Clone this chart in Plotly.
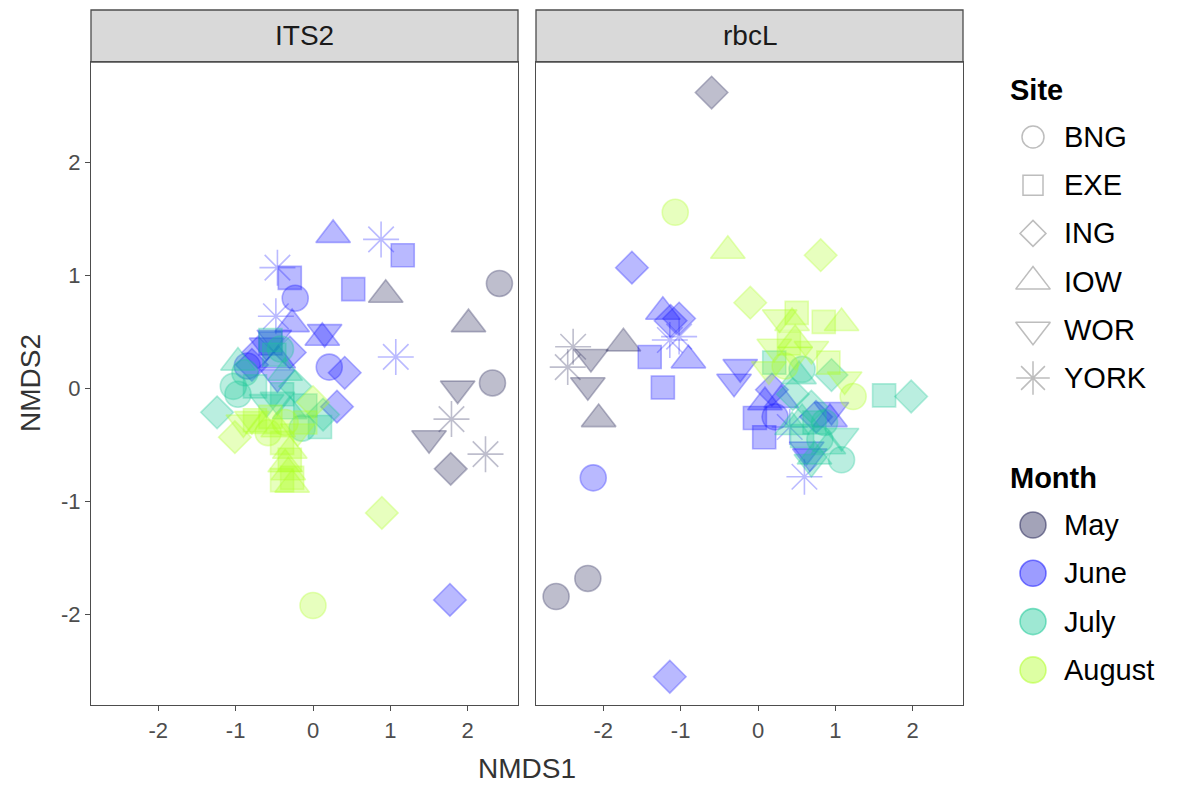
import plotly.graph_objects as go

# ---------------- data ----------------
months = ["May", "June", "July", "August"]
sites = ["BNG", "EXE", "ING", "IOW", "WOR", "YORK"]
month_rgb = {"May": (35, 35, 85), "June": (20, 20, 255), "July": (25, 200, 150), "August": (175, 255, 35)}

its2_x = [2.41, 2.32, 0.94, 2.01, 1.87, 1.50, 1.79, 2.23, 1.78,
          0.88, 1.16, 0.52, 0.26, 1.07, 1.77, -0.46, -0.30, -0.23, -0.48, -0.27, 0.15, 0.12, 0.21, 0.41, 0.31,
          -0.85, -0.50, -0.71, -0.46, -0.30, -0.55, -0.79, -0.45, -0.60,
          -1.03, -0.97, -1.24, -0.88, -0.46, -0.23, -0.36, -0.75, -0.55, -0.97, -0.14, 0.09, 0.13, -0.50, -0.40,
          -0.60, -0.30, -0.10, -0.42,
          0.00, 0.89, -1.01, -0.79, -0.75, -0.45, -0.58, -0.36, 0.00, -0.30, -0.36, -0.27, -0.27, -0.40, -0.32,
          -0.55, -0.90, -0.20, -0.40, -0.30, -0.10, -0.65]
its2_y = [0.93, 0.05, 0.83, 0.57, 0.00, -0.44, -0.27, -0.58, -0.71,
          1.32, 1.18, 0.88, 1.36, 0.28, -1.87, 1.07, 0.98, 0.80, 0.64, 0.57, 0.50, 0.45, 0.19, 0.14, -0.16,
          0.20, 0.45, 0.32, 0.10, 0.32, 0.40, 0.21, 0.25, 0.38,
          0.02, -0.05, -0.21, 0.14, -0.10, 0.02, 0.14, 0.02, 0.43, 0.23, -0.35, -0.34, -0.23, 0.30, -0.05,
          -0.12, -0.20, -0.15, 0.35,
          -1.92, -1.10, -0.43, -0.27, -0.28, -0.36, -0.39, -0.30, -0.12, -0.63, -0.67, -0.79, -0.85, -0.81, -0.74,
          -0.25, -0.30, -0.38, -0.48, -0.55, -0.30, -0.33]
its2_month = (["May"] * 9 + ["June"] * 25 + ["July"] * 19 + ["August"] * 22)
its2_site = ["BNG", "BNG", "IOW", "IOW", "WOR", "WOR", "YORK", "YORK", "ING",
             "YORK", "EXE", "EXE", "IOW", "YORK", "ING", "YORK", "EXE", "BNG", "YORK", "IOW", "WOR", "IOW", "BNG", "ING", "ING",
             "BNG", "WOR", "ING", "WOR", "ING", "EXE", "ING", "IOW", "WOR",
             "BNG", "BNG", "ING", "BNG", "WOR", "ING", "IOW", "EXE", "EXE", "IOW", "BNG", "EXE", "ING", "EXE", "EXE",
             "WOR", "IOW", "EXE", "BNG",
             "BNG", "ING", "ING", "WOR", "EXE", "IOW", "BNG", "BNG", "ING", "EXE", "IOW", "EXE", "IOW", "EXE", "IOW",
             "EXE", "WOR", "WOR", "EXE", "IOW", "EXE", "IOW"]

rbcl_x = [-0.60, -2.61, -2.20, -2.39, -2.46, -2.16, -2.20, -2.06, -1.74,
          -1.63, -2.13, -1.14, -1.23, -1.02, -1.13, -1.14, -1.02, -1.40, -0.90, -1.23, -0.23, -0.31, -0.04, 0.08,
          0.22, 0.09, 0.18, 0.41, 0.60, 0.67, 0.63, 0.95, 0.93, 0.75, 0.30,
          1.63, 1.98, 1.08, 0.21, 0.57, 0.53, 0.95, 1.08, 0.91, 0.86, 0.57, 0.69, 0.73, 0.73, 0.69, 0.57, 0.44,
          0.45, 0.80,
          -1.07, -0.39, 0.81, -0.10, 0.28, 0.50, 0.44, 0.85, 1.08, 0.48, 0.21, 0.69, 0.48, 0.91, 1.12, 1.23,
          0.14, 0.40, 0.35]
rbcl_y = [2.62, -1.84, -1.68, 0.37, 0.19, 0.28, 0.03, -0.27, 0.40,
          1.07, -0.79, -2.55, 0.68, 0.62, 0.60, 0.43, 0.46, 0.28, 0.25, 0.01, 0.19, 0.06, -0.26, -0.43,
          -0.25, -0.12, -0.01, -0.34, -0.78, -0.60, -0.54, -0.19, -0.27, -0.25, -0.10,
          -0.06, -0.07, -0.63, 0.23, 0.17, 0.11, 0.12, -0.42, -0.51, -0.30, -0.27, -0.16, -0.30, -0.60, -0.65, -0.42, -0.34,
          -0.05, -0.45,
          1.56, 1.22, 1.18, 0.76, 0.63, 0.67, 0.58, 0.59, 0.58, 0.43, 0.37, 0.35, 0.30, 0.23, 0.08, -0.07,
          0.17, 0.40, 0.20]
rbcl_month = (["May"] * 9 + ["June"] * 26 + ["July"] * 19 + ["August"] * 19)
rbcl_site = ["ING", "BNG", "BNG", "YORK", "YORK", "WOR", "WOR", "IOW", "IOW",
             "ING", "BNG", "ING", "IOW", "ING", "ING", "YORK", "YORK", "EXE", "IOW", "EXE", "WOR", "WOR", "EXE", "EXE",
             "BNG", "IOW", "ING", "YORK", "YORK", "WOR", "WOR", "WOR", "IOW", "ING", "IOW",
             "EXE", "ING", "BNG", "EXE", "BNG", "IOW", "ING", "WOR", "IOW", "BNG", "IOW", "ING", "EXE", "IOW", "WOR", "EXE", "IOW",
             "ING", "BNG",
             "BNG", "IOW", "ING", "ING", "WOR", "EXE", "IOW", "EXE", "IOW", "IOW", "WOR", "WOR", "WOR", "EXE", "WOR", "BNG",
             "WOR", "EXE", "BNG"]

panel_names = ["ITS2", "rbcL"]

# ---------------- styling ----------------
W, H = 1178, 787
site_symbol = {"BNG": "circle", "EXE": "square", "ING": "diamond", "IOW": "triangle-up",
               "WOR": "triangle-down", "YORK": "asterisk-open"}
site_size = {"BNG": 26, "EXE": 23, "ING": 25, "IOW": 30, "WOR": 30, "YORK": 30}
ALPHA = 0.42
FONT = "Liberation Sans, Arial, sans-serif"

def rgba(rgb, a):
    return "rgba(%d,%d,%d,%.2f)" % (rgb[0], rgb[1], rgb[2], a)

fig = go.Figure()

panels = [(its2_x, its2_y, its2_month, its2_site, "x", "y"),
          (rbcl_x, rbcl_y, rbcl_month, rbcl_site, "x2", "y2")]
for px_, py_, pm, ps, xa, ya in panels:
    for m in months:
        idx = [i for i in range(len(px_)) if pm[i] == m]
        col = month_rgb[m]
        fig.add_trace(go.Scatter(
            x=[px_[i] for i in idx], y=[py_[i] for i in idx], mode="markers",
            xaxis=xa, yaxis=ya, showlegend=False, hoverinfo="skip",
            marker=dict(symbol=[site_symbol[ps[i]] for i in idx],
                        size=[site_size[ps[i]] for i in idx],
                        color=rgba(col, ALPHA),
                        line=dict(color=rgba(col, ALPHA + 0.05), width=1.6))))

# ---------------- panel geometry ----------------
left_dom = [91 / W, 518 / W]
right_dom = [536 / W, 963 / W]
y_dom = [(H - 705) / H, (H - 62) / H]
xr = [-2.87, 2.65]
yr = [-2.8, 2.89]
tickv = [-2, -1, 0, 1, 2]
tickt = ["-2", "-1", "0", "1", "2"]

axis_common = dict(showgrid=False, zeroline=False, showline=True, mirror=True,
                   linecolor="#4d4d4d", linewidth=1.3, ticks="outside", ticklen=5,
                   tickcolor="#4d4d4d", tickwidth=1.3,
                   tickfont=dict(family=FONT, size=22, color="#4d4d4d"),
                   tickvals=tickv, ticktext=tickt)

fig.update_layout(
    width=W, height=H, margin=dict(l=0, r=0, t=0, b=0),
    plot_bgcolor="white", paper_bgcolor="white",
    xaxis=dict(domain=left_dom, range=xr, anchor="y", **axis_common),
    xaxis2=dict(domain=right_dom, range=xr, anchor="y2", **axis_common),
    yaxis=dict(domain=y_dom, range=yr, anchor="x", **axis_common),
    yaxis2=dict(domain=y_dom, range=yr, anchor="x2",
                **{**axis_common, "showticklabels": False, "ticks": ""}),
    xaxis3=dict(domain=[975 / W, 1.0], range=[975, W], visible=False, fixedrange=True),
    yaxis3=dict(domain=[0, 1], range=[H, 0], visible=False, anchor="x3", fixedrange=True),
)

shapes = []
annotations = []
# strips
for dom, name in zip([left_dom, right_dom], panel_names):
    shapes.append(dict(type="rect", xref="paper", yref="paper", x0=dom[0], x1=dom[1],
                       y0=(H - 62) / H, y1=(H - 10) / H, fillcolor="#d9d9d9",
                       line=dict(color="#4d4d4d", width=1.3), layer="below"))
    annotations.append(dict(xref="paper", yref="paper", x=(dom[0] + dom[1]) / 2, y=(H - 36) / H,
                            text=name, showarrow=False, xanchor="center", yanchor="middle",
                            font=dict(family=FONT, size=28, color="#1a1a1a")))

# axis titles
annotations.append(dict(xref="paper", yref="paper", x=527 / W, y=(H - 768) / H, text="NMDS1",
                        showarrow=False, xanchor="center", yanchor="middle",
                        font=dict(family=FONT, size=28, color="#333333")))
annotations.append(dict(xref="paper", yref="paper", x=30 / W, y=(H - 383) / H, text="NMDS2",
                        showarrow=False, xanchor="center", yanchor="middle", textangle=-90,
                        font=dict(family=FONT, size=28, color="#333333")))

# ---------------- custom legend ----------------
sym_x = 1033
txt_x = 1062
site_y0, site_dy = 137, 48.2
month_y0, month_dy = 525, 48.3
legend_site_size = {"BNG": 22, "EXE": 20, "ING": 20, "IOW": 30, "WOR": 30, "YORK": 28}
legend_open = {"BNG": "circle-open", "EXE": "square-open", "ING": "diamond-open",
               "IOW": "triangle-up-open", "WOR": "triangle-down-open", "YORK": "asterisk-open"}

sy = [site_y0 + k * site_dy for k in range(len(sites))]
fig.add_trace(go.Scatter(x=[sym_x] * len(sites), y=sy, mode="markers", xaxis="x3", yaxis="y3",
                         showlegend=False, hoverinfo="skip",
                         marker=dict(symbol=[legend_open[s] for s in sites],
                                     size=[legend_site_size[s] for s in sites],
                                     color="rgba(150,150,150,0.9)",
                                     line=dict(color="rgba(150,150,150,0.9)", width=1.5))))
my = [month_y0 + k * month_dy for k in range(len(months))]
fig.add_trace(go.Scatter(x=[sym_x] * len(months), y=my, mode="markers", xaxis="x3", yaxis="y3",
                         showlegend=False, hoverinfo="skip",
                         marker=dict(symbol="circle", size=26,
                                     color=[rgba(month_rgb[m], ALPHA) for m in months],
                                     line=dict(color=[rgba(month_rgb[m], ALPHA + 0.1) for m in months],
                                               width=1.6))))

annotations.append(dict(xref="paper", yref="paper", x=1008 / W, y=(H - 90) / H, text="<b>Site</b>",
                        showarrow=False, xanchor="left", yanchor="middle",
                        font=dict(family=FONT, size=29, color="black")))
annotations.append(dict(xref="paper", yref="paper", x=1008 / W, y=(H - 478) / H, text="<b>Month</b>",
                        showarrow=False, xanchor="left", yanchor="middle",
                        font=dict(family=FONT, size=29, color="black")))
for s, yy in zip(sites, sy):
    annotations.append(dict(xref="paper", yref="paper", x=txt_x / W, y=(H - yy) / H, text=s,
                            showarrow=False, xanchor="left", yanchor="middle",
                            font=dict(family=FONT, size=29, color="black")))
for m, yy in zip(months, my):
    annotations.append(dict(xref="paper", yref="paper", x=txt_x / W, y=(H - yy) / H, text=m,
                            showarrow=False, xanchor="left", yanchor="middle",
                            font=dict(family=FONT, size=29, color="black")))

fig.update_layout(shapes=shapes, annotations=annotations)
fig.write_html("out.html", config={"displayModeBar": False},
               post_script="document.body.style.margin='0px';")
